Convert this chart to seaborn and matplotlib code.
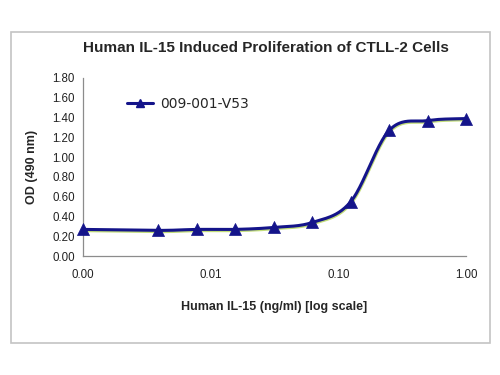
import numpy as np
import pandas as pd
import seaborn as sns
import matplotlib.pyplot as plt
import matplotlib.patheffects as pe
from matplotlib.lines import Line2D
from matplotlib.patches import Rectangle
from matplotlib.ticker import FormatStrFormatter, FixedLocator, NullLocator

# data
conc = [0.001, 0.0039, 0.0078, 0.0156, 0.03125, 0.0625, 0.125, 0.25, 0.5, 1.0]
od = [0.27, 0.26, 0.27, 0.27, 0.29, 0.34, 0.55, 1.27, 1.37, 1.39]
series_name = "009-001-V53"
x_ticks = [0.001, 0.01, 0.1, 1.0]
y_ticks = [0.0, 0.2, 0.4, 0.6, 0.8, 1.0, 1.2, 1.4, 1.6, 1.8]

navy = "#14148a"
shadow = "#c2dd7a"


def smooth_curve(xs, ys, n=40):
    # Catmull-Rom bezier through the points in log-x space (Excel "smoothed line")
    p = np.column_stack([np.log10(xs), ys])
    m = len(p)
    out = []
    for i in range(m - 1):
        p0 = p[max(i - 1, 0)]
        p1 = p[i]
        p2 = p[i + 1]
        p3 = p[min(i + 2, m - 1)]
        c1 = p1 + (p2 - p0) / 6
        c2 = p2 - (p3 - p1) / 6
        t = np.linspace(0, 1, n)[:, None]
        seg = ((1 - t) ** 3) * p1 + 3 * ((1 - t) ** 2) * t * c1 + 3 * (1 - t) * t ** 2 * c2 + t ** 3 * p2
        out.append(seg if i == 0 else seg[1:])
    out = np.vstack(out)
    return pd.DataFrame({"conc": 10 ** out[:, 0], "od": out[:, 1]})


sns.set_style("white")
plt.rcParams["font.family"] = ["Liberation Sans", "DejaVu Sans"]

fig = plt.figure(figsize=(5, 3.75), dpi=100)
ax = fig.add_axes([0.166, 0.317, 0.766, 0.475])

# outer chart frame
fig.patches.append(Rectangle((11 / 500, 1 - 343 / 375), 479 / 500, 311 / 375,
                             transform=fig.transFigure, fill=False,
                             edgecolor="#c4c4c4", linewidth=1.2))

curve = smooth_curve(conc, od)
sns.lineplot(data=curve, x="conc", y="od", ax=ax, color=navy, linewidth=2.2,
             sort=False, estimator=None,
             path_effects=[pe.SimpleLineShadow(offset=(0.4, -0.9), shadow_color=shadow, alpha=1),
                           pe.Normal()])
pts = pd.DataFrame({"conc": conc, "od": od})
sns.scatterplot(data=pts, x="conc", y="od", ax=ax, marker="^", s=75,
                color=navy, edgecolor=navy, linewidth=0.5, zorder=5, clip_on=False)

ax.set_xscale("log")
ax.set_xlim(0.001, 1.0)
ax.set_ylim(0, 1.8)
ax.xaxis.set_major_locator(FixedLocator(x_ticks))
ax.xaxis.set_minor_locator(NullLocator())
ax.xaxis.set_major_formatter(FormatStrFormatter("%.2f"))
ax.set_yticks(y_ticks)
ax.yaxis.set_major_formatter(FormatStrFormatter("%.2f"))

for s in ["top", "right"]:
    ax.spines[s].set_visible(False)
for s in ["left", "bottom"]:
    ax.spines[s].set_color("#8c8c8c")
    ax.spines[s].set_linewidth(0.9)
ax.tick_params(axis="both", which="major", direction="out", length=3, width=0.8,
               color="#8c8c8c", labelsize=8.3, labelcolor="#222222", pad=3)
ax.tick_params(axis="x", pad=6)

ax.set_xlabel("Human IL-15 (ng/ml) [log scale]", fontsize=9, fontweight="bold", labelpad=14.5)
ax.set_ylabel("OD (490 nm)", fontsize=9, fontweight="bold", labelpad=10)
fig.text(0.531, 1 - 48 / 375, "Human IL-15 Induced Proliferation of CTLL-2 Cells",
         ha="center", va="center", fontsize=11, fontweight="bold")

handle = Line2D([], [], color=navy, linewidth=2.2, marker="^", markersize=6)
ax.legend([handle], [series_name], loc="center left",
          bbox_to_anchor=(114 / 500, 1 - 104 / 375), bbox_transform=fig.transFigure,
          frameon=False, handlelength=1.9, handletextpad=0.5,
          prop={"family": "DejaVu Sans", "size": 10})

fig.savefig("out.png", dpi=100)
